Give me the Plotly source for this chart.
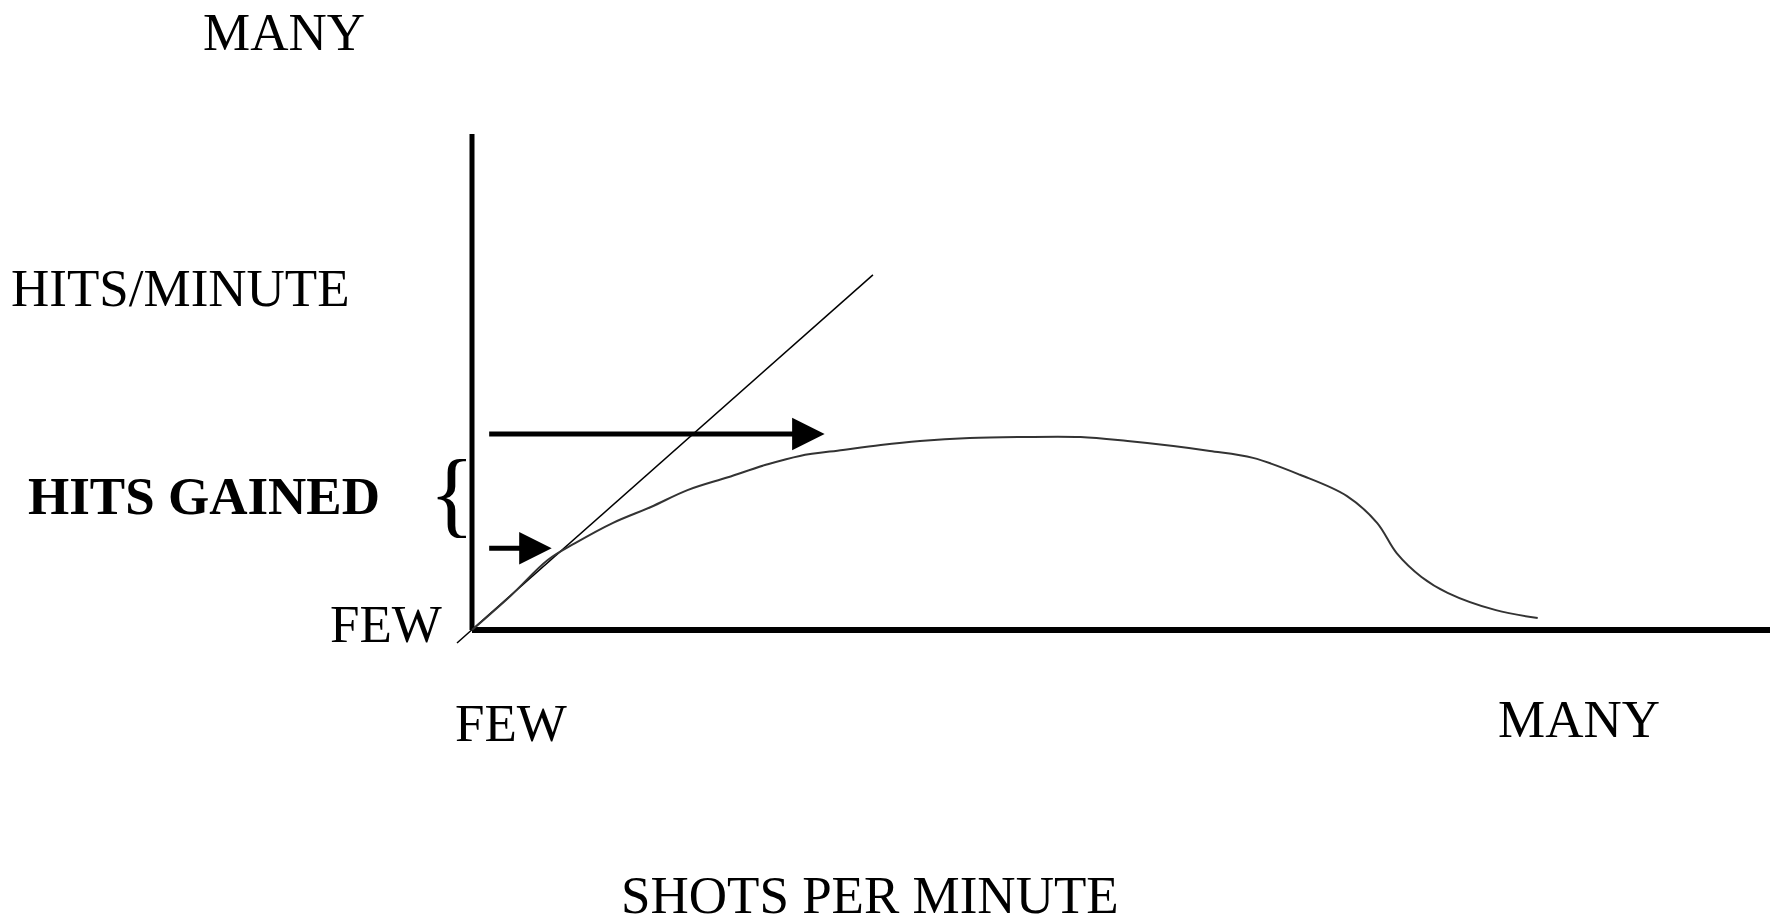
import plotly.graph_objects as go

# ---- data (conceptual units: shots per minute vs hits per minute) ----
shots = [0.0, 0.30, 0.58, 0.79, 1.08, 1.37, 1.65, 1.96, 2.25, 2.51, 2.84, 3.13, 3.43,
         3.81, 4.20, 4.66, 5.02, 5.37, 5.65, 5.98, 6.34, 6.70, 6.93, 7.08, 7.27, 7.47,
         7.84, 8.16]
hits = [0.0, 0.70, 1.41, 1.75, 2.16, 2.48, 2.82, 3.08, 3.33, 3.51, 3.63, 3.73, 3.81,
        3.87, 3.89, 3.89, 3.81, 3.71, 3.61, 3.47, 3.13, 2.70, 2.16, 1.55, 1.07, 0.75,
        0.40, 0.24]

# ideal line: hits proportional to shots
ideal_shots = [-0.115, 3.07]
ideal_hits = [-0.262, 7.16]

# axes extent
x_axis_shots = [0, 10]
x_axis_hits = [0, 0]
y_axis_shots = [0, 0]
y_axis_hits = [0, 10]

# arrows: (start shots, end shots, hits level)
long_arrow = (0.12, 2.70, 3.95)
short_arrow = (0.12, 0.61, 1.65)

FONT = "Liberation Serif, Times New Roman, serif"
FS = 53

fig = go.Figure()
fig.add_trace(go.Scatter(x=x_axis_shots, y=x_axis_hits, mode="lines",
                         line=dict(color="black", width=6), hoverinfo="skip"))
fig.add_trace(go.Scatter(x=y_axis_shots, y=y_axis_hits, mode="lines",
                         line=dict(color="black", width=5), hoverinfo="skip"))
fig.add_trace(go.Scatter(x=ideal_shots, y=ideal_hits, mode="lines",
                         line=dict(color="black", width=1.5), hoverinfo="skip"))
fig.add_trace(go.Scatter(x=shots, y=hits, mode="lines", line_shape="spline",
                         line=dict(color="#333333", width=2), hoverinfo="skip"))

for (x0, x1, yv) in (long_arrow, short_arrow):
    fig.add_annotation(x=x1, y=yv, ax=x0, ay=yv, xref="x", yref="y", axref="x", ayref="y",
                       text="", showarrow=True, arrowhead=2, arrowsize=1.3,
                       arrowwidth=5, arrowcolor="black", standoff=0, startstandoff=0)

labels = [
    ("MANY", -1.44, 12.06, False),
    ("HITS/MINUTE", -2.23, 6.90, False),
    ("HITS GAINED", -2.05, 2.70, True),
    ("FEW", -0.66, 0.12, False),
    ("FEW", 0.30, -1.88, False),
    ("MANY", 8.48, -1.79, False),
    ("SHOTS PER MINUTE", 3.05, -5.34, False),
]
for txt, xx, yy, bold in labels:
    fig.add_annotation(x=xx, y=yy, xref="x", yref="y", showarrow=False,
                       text=f"<b>{txt}</b>" if bold else txt,
                       font=dict(family=FONT, size=FS, color="black"),
                       xanchor="center", yanchor="middle")

# brace
fig.add_annotation(x=-0.15, y=2.76, xref="x", yref="y", showarrow=False, text="{",
                   font=dict(family=FONT, size=95, color="black"),
                   xanchor="center", yanchor="middle")

# page body has an 8px margin: the figure is drawn 8px in from the window corner
PAGE_MARGIN = 8
W, H = 1778 - PAGE_MARGIN, 917 - PAGE_MARGIN
px_per_x = 130.6
px_per_y = 49.6
ox, oy = 472 - PAGE_MARGIN, 630 - PAGE_MARGIN
fig.update_layout(
    width=W, height=H, margin=dict(l=0, r=0, t=0, b=0),
    paper_bgcolor="white", plot_bgcolor="white", showlegend=False,
    xaxis=dict(range=[-ox / px_per_x, (W - ox) / px_per_x], visible=False, fixedrange=True),
    yaxis=dict(range=[-(H - oy) / px_per_y, oy / px_per_y], visible=False, fixedrange=True),
)
fig.write_html("out.html")
